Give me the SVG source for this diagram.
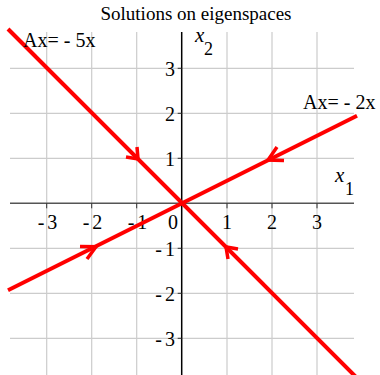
<svg xmlns="http://www.w3.org/2000/svg" width="380" height="375" viewBox="0 0 380 375">
<style>
.grid{stroke:#cccccc;stroke-width:1.2;fill:none}
.xaxis{stroke:#555555;stroke-width:1.5}
.yaxis{stroke:#000000;stroke-width:1.5}
.tick{stroke:#333333;stroke-width:1}
.t{font-family:"Liberation Serif","Times New Roman",serif;fill:#000}
.lbl{font-size:20px}
.sol{stroke:#ff0000;stroke-width:4;fill:none}
.arr{stroke:#ff0000;stroke-width:3.5;fill:none;stroke-linecap:butt;stroke-linejoin:miter}
</style>
<rect width="380" height="375" fill="#ffffff"/>
<g id="grid">
<path class="grid" d="M46.7 32V375M91.7 32V375M136.7 32V375M227 32V375M272 32V375M317 32V375"/>
<path class="grid" d="M10 68.3H354M10 113.3H354M10 158.3H354M10 248.3H354M10 293.3H354M10 338.3H354"/>
</g>
<g id="axes">
<line class="xaxis" x1="10" y1="203.3" x2="354" y2="203.3"/>
<line class="yaxis" x1="181.7" y1="32" x2="181.7" y2="375"/>
<path class="tick" d="M46.7 203.3v5M91.7 203.3v5M136.7 203.3v5M227 203.3v5M272 203.3v5M317 203.3v5"/>
<path class="tick" d="M181.7 68.3h-4M181.7 113.3h-4M181.7 158.3h-4M181.7 248.3h-4M181.7 293.3h-4M181.7 338.3h-4"/>
</g>
<g id="tick-labels" class="t lbl">
<text x="47.5" y="229" text-anchor="middle">-<tspan dx="3">3</tspan></text>
<text x="92.5" y="229" text-anchor="middle">-<tspan dx="3">2</tspan></text>
<text x="137.5" y="229" text-anchor="middle">-<tspan dx="3">1</tspan></text>
<text x="173" y="229" text-anchor="middle">0</text>
<text x="227" y="229" text-anchor="middle">1</text>
<text x="272" y="229" text-anchor="middle">2</text>
<text x="317" y="229" text-anchor="middle">3</text>
<text x="175" y="75.5" text-anchor="end">3</text>
<text x="175" y="120.5" text-anchor="end">2</text>
<text x="175" y="165.5" text-anchor="end">1</text>
<text x="175" y="255.5" text-anchor="end">-<tspan dx="3">1</tspan></text>
<text x="175" y="300.5" text-anchor="end">-<tspan dx="3">2</tspan></text>
<text x="175" y="345.5" text-anchor="end">-<tspan dx="3">3</tspan></text>
</g>
<g id="axis-label-x1" class="t">
<text x="335" y="182" font-size="21" font-style="italic">x</text>
<text x="345" y="195" font-size="18">1</text>
</g>
<g id="axis-label-x2" class="t">
<text x="195" y="42" font-size="21" font-style="italic">x</text>
<text x="204" y="55" font-size="18">2</text>
</g>
<g id="title" class="t">
<text x="196" y="20" font-size="19" text-anchor="middle">Solutions on eigenspaces</text>
</g>
<g id="connectors">
<line id="eig-5" class="sol" x1="8" y1="29" x2="360" y2="381"/>
<line id="eig-2" class="sol" x1="8" y1="290.3" x2="357" y2="115.8"/>
<path class="arr" d="M126 157L138 159L137 147"/>
<path class="arr" d="M238 249L226 247L228 259"/>
<path class="arr" d="M284 160.5L268 160L277 147"/>
<path class="arr" d="M80 246.5L96 246.8L87 259"/>
</g>
<g id="label-ax5" class="t">
<text x="23" y="47" font-size="20">Ax=<tspan dx="5">-</tspan><tspan dx="5">5x</tspan></text>
</g>
<g id="label-ax2" class="t">
<text x="303" y="109" font-size="20">Ax=<tspan dx="5">-</tspan><tspan dx="5">2x</tspan></text>
</g>
</svg>
